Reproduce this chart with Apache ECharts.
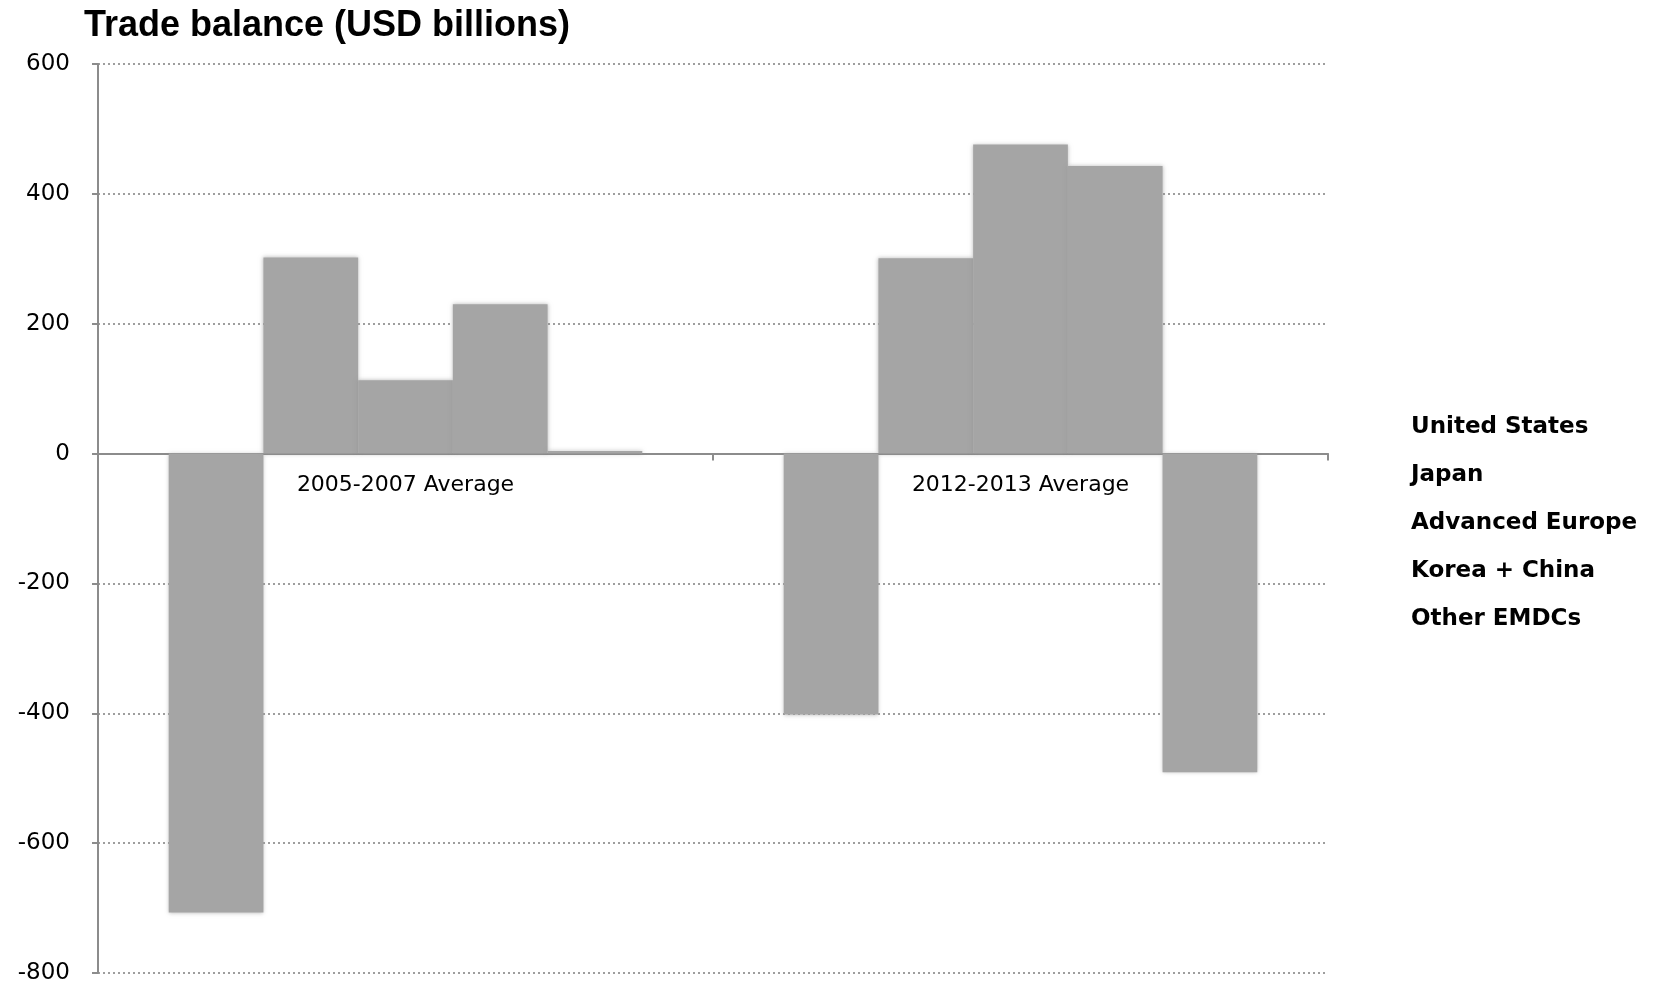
<!DOCTYPE html>
<html>
<head>
<meta charset="utf-8">
<script src="https://cdn.jsdelivr.net/npm/echarts@6/dist/echarts.min.js"></script>
<style>
html,body{margin:0;padding:0;background:#fff;}
#chart{width:1673px;height:981px;}
</style>
</head>
<body>
<div id="chart"></div>
<script>
var categories = ['2005-2007 Average', '2012-2013 Average'];
var seriesNames = ['United States', 'Japan', 'Advanced Europe', 'Korea + China', 'Other EMDCs'];
var unitedStates = [-707, -402];
var japan = [302, 301];
var advancedEurope = [113, 476];
var koreaChina = [230, 443];
var otherEMDCs = [4, -491];
var yTicks = [-800, -600, -400, -200, 0, 200, 400, 600];

var values = [unitedStates, japan, advancedEurope, koreaChina, otherEMDCs];
var barColor = '#a5a5a5';

var gridTop = 64, gridBottom = 8, chartH = 981;
var yMin = yTicks[0], yMax = yTicks[yTicks.length - 1];
var plotH = chartH - gridTop - gridBottom;
// move the category axis (with its labels) up to the zero line
var zeroOffset = -plotH * (0 - yMin) / (yMax - yMin);

var chart = echarts.init(document.getElementById('chart'));
chart.setOption({
  animation: false,
  backgroundColor: '#ffffff',
  title: {
    text: 'Trade balance (USD billions)',
    left: 79,
    top: 3,
    textStyle: {fontFamily: 'Liberation Sans', fontWeight: 'bold', fontSize: 36, color: '#000'}
  },
  legend: {
    orient: 'vertical',
    left: 1406,
    top: 410,
    itemWidth: 0,
    itemHeight: 24,
    itemGap: 24,
    icon: 'rect',
    data: seriesNames,
    textStyle: {fontFamily: 'DejaVu Sans', fontWeight: 'bold', fontSize: 23, color: '#000', padding: [0,0,0,-5]}
  },
  grid: {left: 98, right: 345, top: gridTop, bottom: gridBottom, containLabel: false, outerBoundsMode: 'none'},
  xAxis: {
    type: 'category',
    data: categories,
    position: 'bottom',
    offset: zeroOffset,
    axisLine: {onZero: false, lineStyle: {color: '#8c8c8c', width: 2}},
    axisTick: {show: true, length: 7, lineStyle: {color: '#8c8c8c', width: 2}},
    axisLabel: {margin: 21, fontFamily: 'DejaVu Sans', fontSize: 22, color: '#000'},
    splitLine: {show: false}
  },
  yAxis: {
    type: 'value',
    min: yMin,
    max: yMax,
    interval: 200,
    axisLine: {show: true, lineStyle: {color: '#8c8c8c', width: 2}},
    axisTick: {show: true, length: 6, lineStyle: {color: '#8c8c8c', width: 2}},
    axisLabel: {margin: 28, fontFamily: 'DejaVu Sans', fontSize: 23, color: '#000', padding: [4, 0, 0, 0]},
    splitLine: {show: true, lineStyle: {color: '#7f7f7f', width: 1.5, type: [2, 3]}}
  },
  series: seriesNames.map(function (name, i) {
    return {
      name: name,
      type: 'bar',
      data: values[i],
      barGap: '0%',
      barCategoryGap: '23%',
      itemStyle: {color: barColor, shadowBlur: 4, shadowColor: 'rgba(140,140,140,0.6)'}
    };
  })
});
</script>
</body>
</html>
